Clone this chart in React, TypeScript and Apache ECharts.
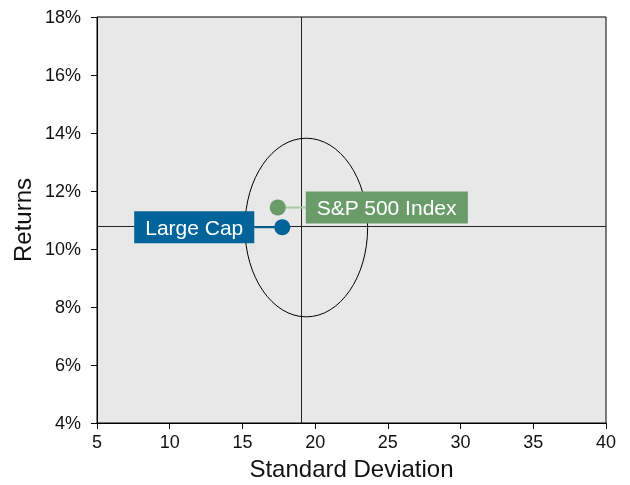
import React, { useEffect, useRef } from "react";
import * as echarts from "echarts";

const seriesNames = ["Large Cap", "S&P 500 Index"];
const stdDev = [17.74, 17.43];
const returns = [10.75, 11.43];
const pointColors = ["#006399", "#6a9c6a"];
const leaderColors = ["#006399", "#a9c9a2"];
const labelSides = ["left", "right"];

const crossX = 19.03;
const crossY = 10.8;

const ellipseCenter = [19.39, 10.74];
const ellipseRadii = [4.22, 3.08];

const xTicks = { min: 5, max: 40, interval: 5 };
const yTicks = { min: 4, max: 18, interval: 2 };

const FONT = '"Liberation Sans", Arial, sans-serif';

export default function App() {
  const ref = useRef<HTMLDivElement>(null);
  useEffect(() => {
    if (!ref.current) return;
    const chart = echarts.init(ref.current, null, { renderer: "svg" });
    const pointData = seriesNames.map((n, i) => ({
      name: n,
      value: [stdDev[i], returns[i]],
      itemStyle: { color: pointColors[i], opacity: 1 },
    }));
    const labelData = seriesNames.map((n, i) => ({
      name: n,
      value: [stdDev[i], returns[i], i],
    }));
    chart.setOption({
      animation: false,
      textStyle: { fontFamily: FONT },
      grid: {
        left: 97,
        right: 24,
        top: 17,
        bottom: 59,
        show: true,
        backgroundColor: "#e8e8e8",
        borderColor: "#000",
        borderWidth: 1,
      },
      xAxis: {
        type: "value",
        min: xTicks.min,
        max: xTicks.max,
        interval: xTicks.interval,
        name: "Standard Deviation",
        nameLocation: "middle",
        nameGap: 33,
        nameTextStyle: { fontSize: 24, color: "#111", fontFamily: FONT },
        axisLine: { show: true, lineStyle: { color: "#000", width: 1 } },
        axisTick: { show: true, length: 6, lineStyle: { color: "#000" } },
        axisLabel: { fontSize: 18, color: "#111", margin: 10, fontFamily: FONT },
        splitLine: { show: false },
      },
      yAxis: {
        type: "value",
        min: yTicks.min,
        max: yTicks.max,
        interval: yTicks.interval,
        name: "Returns",
        nameLocation: "middle",
        nameGap: 60,
        nameTextStyle: { fontSize: 24, color: "#111", fontFamily: FONT },
        axisLine: { show: true, lineStyle: { color: "#000", width: 1 } },
        axisTick: { show: true, length: 6, lineStyle: { color: "#000" } },
        axisLabel: {
          fontSize: 18,
          color: "#111",
          margin: 16,
          formatter: "{value}%",
          fontFamily: FONT,
        },
        splitLine: { show: false },
      },
      series: [
        {
          type: "custom",
          z: 2,
          silent: true,
          data: [[ellipseCenter[0], ellipseCenter[1], ellipseRadii[0], ellipseRadii[1]]],
          renderItem: (params: any, api: any) => {
            const c = api.coord([api.value(0), api.value(1)]);
            const ex = api.coord([api.value(0) + api.value(2), api.value(1)]);
            const ey = api.coord([api.value(0), api.value(1) + api.value(3)]);
            return {
              type: "ellipse",
              shape: { cx: c[0], cy: c[1], rx: Math.abs(ex[0] - c[0]), ry: Math.abs(c[1] - ey[1]) },
              style: { fill: "none", stroke: "#000", lineWidth: 1 },
            };
          },
        },
        {
          type: "scatter",
          z: 1,
          silent: true,
          symbolSize: 0,
          data: [],
          markLine: {
            symbol: "none",
            silent: true,
            z: 1,
            label: { show: false },
            lineStyle: { color: "#222", type: "solid", width: 1 },
            data: [{ xAxis: crossX }, { yAxis: crossY }],
          },
        },
        {
          type: "custom",
          z: 10,
          silent: true,
          data: labelData,
          renderItem: (params: any, api: any) => {
            const idx = api.value(2);
            const p = api.coord([api.value(0), api.value(1)]);
            const side = labelSides[idx];
            const gap = 28;
            const edgeX = side === "left" ? p[0] - gap : p[0] + gap;
            return {
              type: "group",
              children: [
                {
                  type: "line",
                  shape: { x1: p[0], y1: p[1], x2: edgeX, y2: p[1] },
                  style: { stroke: leaderColors[idx], lineWidth: 2 },
                },
                {
                  type: "text",
                  x: edgeX,
                  y: p[1],
                  style: {
                    text: seriesNames[idx],
                    fill: "#fff",
                    font: "21px " + FONT,
                    align: side === "left" ? "right" : "left",
                    verticalAlign: "middle",
                    backgroundColor: pointColors[idx],
                    padding: [6, 11, 5, 11],
                  },
                },
              ],
            };
          },
        },
        {
          type: "scatter",
          z: 11,
          silent: true,
          symbol: "circle",
          symbolSize: 16,
          data: pointData,
        },
      ],
    });
    return () => chart.dispose();
  }, []);
  return (
    <div
      ref={ref}
      style={{ position: "fixed", left: 0, top: 0, width: 630, height: 485 }}
    />
  );
}
